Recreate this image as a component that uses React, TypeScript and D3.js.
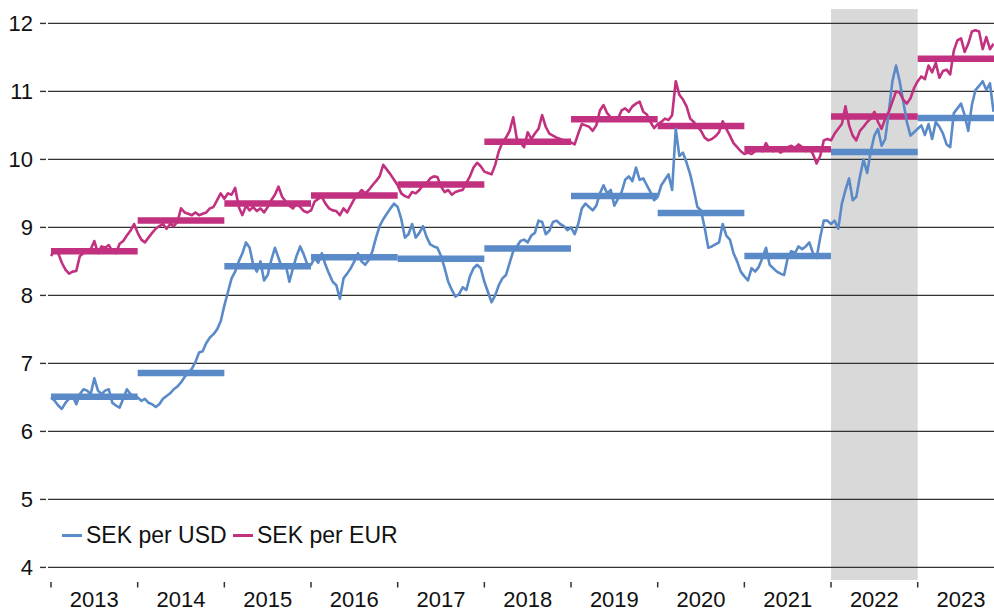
import * as d3 from "d3";
import { useEffect, useRef } from "react";

// year labels and annual averages
const years = [2013, 2014, 2015, 2016, 2017, 2018, 2019, 2020, 2021, 2022, 2023];
const usdAvg = [6.51, 6.86, 8.43, 8.56, 8.54, 8.69, 9.46, 9.21, 8.58, 10.11, 10.61];
const eurAvg = [8.65, 9.1, 9.35, 9.47, 9.63, 10.26, 10.59, 10.49, 10.15, 10.63, 11.48];
const yTicks = [4, 5, 6, 7, 8, 9, 10, 11, 12];
const shadedYear = 2022;

// rates read twice a month, starting January 2013
const samplesPerYear = 24;
const usdRate = [
  6.5, 6.45, 6.38, 6.33, 6.42, 6.48, 6.52, 6.4, 6.55, 6.62, 6.6, 6.55, 6.78, 6.6, 6.55, 6.6, 6.62, 6.42, 6.38, 6.35, 6.48, 6.62, 6.55, 6.5,
  6.5, 6.45, 6.48, 6.42, 6.4, 6.36, 6.4, 6.48, 6.52, 6.56, 6.62, 6.66, 6.72, 6.8, 6.86, 6.92, 7.02, 7.16, 7.18, 7.3, 7.38, 7.43, 7.5, 7.62,
  7.85, 8.05, 8.25, 8.35, 8.5, 8.62, 8.78, 8.7, 8.45, 8.35, 8.5, 8.22, 8.3, 8.52, 8.7, 8.55, 8.4, 8.45, 8.2, 8.4, 8.58, 8.72, 8.6, 8.45,
  8.45, 8.55, 8.48, 8.62, 8.45, 8.32, 8.2, 8.15, 7.95, 8.25, 8.32, 8.4, 8.5, 8.62, 8.5, 8.45, 8.52, 8.65, 8.85, 9.02, 9.12, 9.2, 9.28, 9.35,
  9.3, 9.12, 8.85, 8.9, 9.05, 8.85, 8.92, 9.02, 8.86, 8.75, 8.72, 8.7, 8.58, 8.4, 8.2, 8.08, 7.98, 8.02, 8.12, 8.08, 8.28, 8.4, 8.45, 8.4,
  8.2, 8.05, 7.9, 8.0, 8.15, 8.25, 8.3, 8.48, 8.65, 8.72, 8.8, 8.82, 8.78, 8.88, 8.92, 9.1, 9.08, 8.9, 8.95, 9.08, 9.1, 9.05, 9.02, 8.96,
  9.0, 8.9, 9.05, 9.28, 9.35, 9.3, 9.25, 9.32, 9.5, 9.62, 9.5, 9.55, 9.32, 9.42, 9.52, 9.7, 9.75, 9.68, 9.88, 9.7, 9.72, 9.62, 9.52, 9.4,
  9.45, 9.62, 9.7, 9.78, 9.55, 10.45, 10.05, 10.1, 9.95, 9.78, 9.55, 9.3, 9.25, 9.0, 8.7, 8.72, 8.75, 8.78, 9.05, 8.88, 8.82, 8.62, 8.5, 8.35,
  8.28, 8.22, 8.4, 8.35, 8.42, 8.55, 8.7, 8.45, 8.4, 8.35, 8.32, 8.3, 8.55, 8.65, 8.62, 8.72, 8.68, 8.72, 8.78, 8.62, 8.55, 8.85, 9.1, 9.1,
  9.05, 9.1, 8.98, 9.35, 9.55, 9.72, 9.4, 9.45, 9.75, 10.0, 9.8, 10.12, 10.35, 10.45, 10.2, 10.3, 10.7, 11.15, 11.38, 11.15, 10.85, 10.55, 10.35, 10.4,
  10.45, 10.5, 10.36, 10.52, 10.3, 10.55, 10.48, 10.38, 10.22, 10.18, 10.68, 10.75, 10.82, 10.65, 10.42, 10.8, 11.02, 11.08, 11.15, 11.02, 11.12, 10.7,
];
const eurRate = [
  8.58, 8.66, 8.62, 8.48, 8.38, 8.32, 8.35, 8.36, 8.58, 8.62, 8.65, 8.68, 8.8, 8.62, 8.72, 8.7, 8.74, 8.65, 8.62, 8.76, 8.8, 8.88, 8.95, 9.05,
  8.92, 8.82, 8.78, 8.85, 8.92, 8.98, 9.02, 9.05, 8.98, 9.05, 9.02, 9.08, 9.28, 9.22, 9.2, 9.18, 9.22, 9.18, 9.2, 9.22, 9.28, 9.3, 9.4, 9.5,
  9.42, 9.5, 9.48, 9.58, 9.3, 9.18, 9.32, 9.25, 9.3, 9.24, 9.28, 9.22, 9.3, 9.4, 9.48, 9.6, 9.45, 9.38, 9.32, 9.28, 9.35, 9.3, 9.24, 9.22,
  9.25, 9.38, 9.42, 9.45, 9.35, 9.28, 9.25, 9.24, 9.18, 9.28, 9.22, 9.32, 9.42, 9.48, 9.55, 9.5, 9.55, 9.62, 9.68, 9.75, 9.92, 9.85, 9.78, 9.7,
  9.62, 9.5, 9.46, 9.44, 9.52, 9.5, 9.55, 9.62, 9.65, 9.72, 9.75, 9.74, 9.6, 9.52, 9.55, 9.48, 9.52, 9.54, 9.55, 9.65, 9.75, 9.88, 9.95, 9.9,
  9.82, 9.8, 9.78, 9.92, 10.12, 10.25, 10.32, 10.42, 10.62, 10.3, 10.25, 10.18, 10.4, 10.3, 10.38, 10.45, 10.65, 10.48, 10.38, 10.35, 10.32, 10.3, 10.28, 10.26,
  10.25, 10.22, 10.38, 10.52, 10.5, 10.48, 10.42, 10.5, 10.72, 10.8, 10.68, 10.62, 10.58, 10.6, 10.72, 10.75, 10.7, 10.78, 10.82, 10.85, 10.7, 10.66, 10.55, 10.46,
  10.52, 10.55, 10.6, 10.58, 10.65, 11.15, 10.95, 10.88, 10.78, 10.6, 10.55, 10.48, 10.42, 10.32, 10.28, 10.3, 10.34, 10.4, 10.56, 10.45, 10.35, 10.24, 10.18, 10.12,
  10.08, 10.1, 10.08, 10.12, 10.16, 10.12, 10.24, 10.14, 10.12, 10.15, 10.1, 10.14, 10.18, 10.2, 10.17, 10.22, 10.18, 10.12, 10.16, 10.08, 9.94, 10.05, 10.28, 10.3,
  10.28, 10.38, 10.45, 10.52, 10.78, 10.5, 10.35, 10.28, 10.42, 10.48, 10.55, 10.6, 10.7, 10.55, 10.45, 10.6, 10.7, 10.85, 11.0, 10.98, 10.88, 10.82, 10.9, 11.05,
  11.15, 11.22, 11.18, 11.38, 11.28, 11.42, 11.2, 11.3, 11.32, 11.25, 11.6, 11.75, 11.78, 11.58, 11.7, 11.88, 11.9, 11.88, 11.62, 11.8, 11.62, 11.7,
];

const W = 994;
const H = 612;
const usdColor = "#5a8ac7";
const eurColor = "#c2317f";
const font = "'Liberation Sans', Arial, sans-serif";

const App = () => {
  const ref = useRef<SVGSVGElement>(null);

  useEffect(() => {
    const svg = d3.select(ref.current);
    svg.selectAll("*").remove();

    const x = d3.scaleLinear().domain([2013, 2023]).range([51, 917.7]);
    const y = d3.scaleLinear().domain([4, 12]).range([567.4, 23.4]);

    const clip = svg.append("defs").append("clipPath").attr("id", "plot-clip");
    clip.append("rect").attr("x", 0).attr("y", 0).attr("width", W).attr("height", H);

    // shaded year
    svg
      .append("rect")
      .attr("x", x(shadedYear))
      .attr("y", 9)
      .attr("width", x(shadedYear + 1) - x(shadedYear))
      .attr("height", 580 - 9)
      .attr("fill", "#d9d9d9");

    // gridlines + left ticks
    const grid = svg.append("g");
    grid
      .selectAll("line.grid")
      .data(yTicks)
      .join("line")
      .attr("class", "grid")
      .attr("x1", 48)
      .attr("x2", W)
      .attr("y1", (d) => y(d))
      .attr("y2", (d) => y(d))
      .attr("stroke", "#333")
      .attr("stroke-width", 1.4);
    grid
      .selectAll("line.tick")
      .data(yTicks)
      .join("line")
      .attr("class", "tick")
      .attr("x1", 40)
      .attr("x2", 46)
      .attr("y1", (d) => y(d))
      .attr("y2", (d) => y(d))
      .attr("stroke", "#333")
      .attr("stroke-width", 1.4);
    grid
      .selectAll("text")
      .data(yTicks)
      .join("text")
      .attr("x", 33)
      .attr("y", (d) => y(d) + 8)
      .attr("text-anchor", "end")
      .attr("font-family", font)
      .attr("font-size", 22)
      .attr("fill", "#111")
      .text((d) => d);

    // x ticks at year boundaries, labels mid-year
    const xAxis = svg.append("g");
    xAxis
      .selectAll("line")
      .data(years)
      .join("line")
      .attr("x1", (d) => x(d))
      .attr("x2", (d) => x(d))
      .attr("y1", 582)
      .attr("y2", 587.5)
      .attr("stroke", "#333")
      .attr("stroke-width", 1.5);
    xAxis
      .selectAll("text")
      .data(years)
      .join("text")
      .attr("x", (d) => x(d + 0.5))
      .attr("y", 607)
      .attr("text-anchor", "middle")
      .attr("font-family", font)
      .attr("font-size", 22)
      .attr("fill", "#111")
      .text((d) => d);

    const plot = svg.append("g").attr("clip-path", "url(#plot-clip)");

    // annual averages
    const bars = (vals: number[], color: string) =>
      plot
        .append("g")
        .selectAll("line")
        .data(vals)
        .join("line")
        .attr("x1", (_, i) => x(years[i]))
        .attr("x2", (_, i) => x(years[i] + 1))
        .attr("y1", (d) => y(d))
        .attr("y2", (d) => y(d))
        .attr("stroke", color)
        .attr("stroke-width", 6.5);
    bars(usdAvg, usdColor);
    bars(eurAvg, eurColor);

    // rates
    const line = d3
      .line<number>()
      .x((_, i) => x(2013 + i / samplesPerYear))
      .y((d) => y(d));
    plot
      .append("path")
      .attr("d", line(usdRate))
      .attr("fill", "none")
      .attr("stroke", usdColor)
      .attr("stroke-width", 2.6)
      .attr("stroke-linejoin", "round");
    plot
      .append("path")
      .attr("d", line(eurRate))
      .attr("fill", "none")
      .attr("stroke", eurColor)
      .attr("stroke-width", 2.6)
      .attr("stroke-linejoin", "round");

    // legend
    const legend = [
      { label: "SEK per USD", color: usdColor, x: 62 },
      { label: "SEK per EUR", color: eurColor, x: 233 },
    ];
    const lg = svg.append("g");
    legend.forEach((l) => {
      lg.append("line")
        .attr("x1", l.x)
        .attr("x2", l.x + 20)
        .attr("y1", 535.5)
        .attr("y2", 535.5)
        .attr("stroke", l.color)
        .attr("stroke-width", 3);
      lg.append("text")
        .attr("x", l.x + 24)
        .attr("y", 543)
        .attr("font-family", font)
        .attr("font-size", 23)
        .attr("fill", "#111")
        .text(l.label);
    });
  }, []);

  return (
    <>
      <style>{"body{margin:0}"}</style>
      <svg ref={ref} width={W} height={H} style={{ display: "block" }} />
    </>
  );
};

export default App;
